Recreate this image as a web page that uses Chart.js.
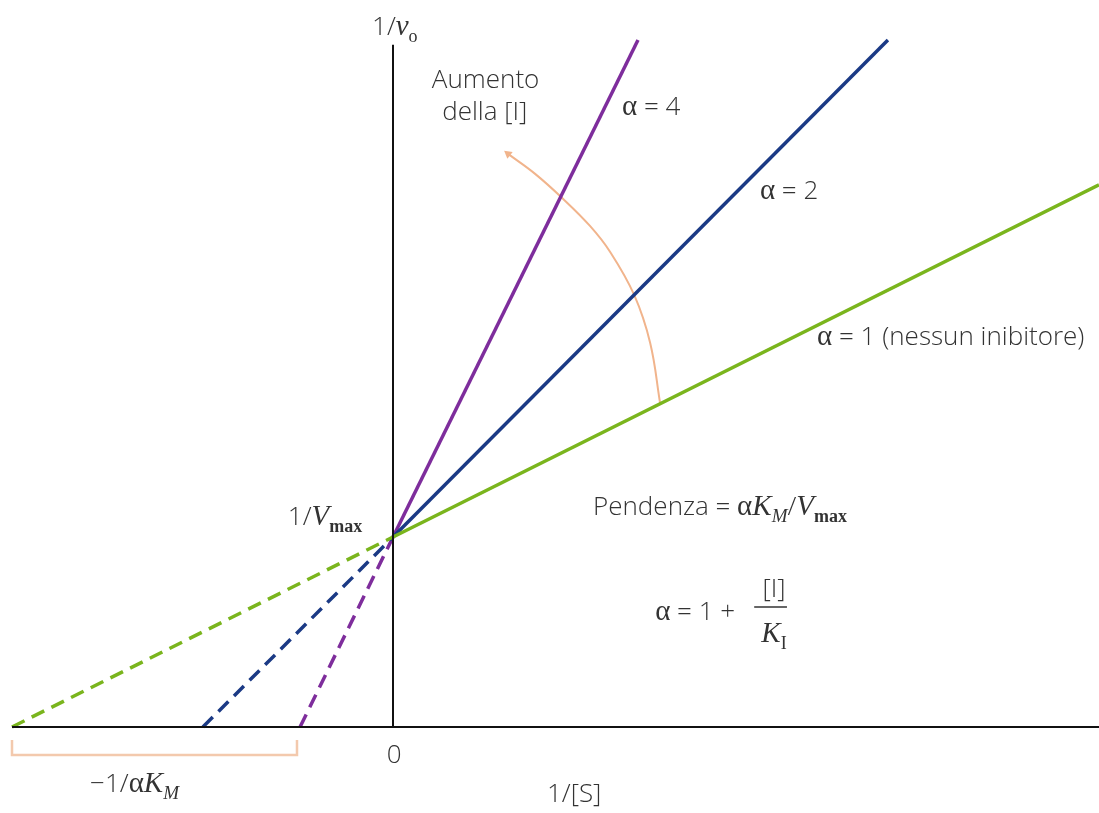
<!DOCTYPE html>
<html>
<head>
<meta charset="utf-8">
<script src="https://cdn.jsdelivr.net/npm/chart.js@4.4.1/dist/chart.umd.min.js"></script>
<style>
  html, body { margin: 0; padding: 0; background: #fff; overflow: hidden; }
  #wrap { width: 1099px; height: 813px; position: relative; }
</style>
</head>
<body>
<div id="wrap"><canvas id="lb"></canvas></div>
<script>
// Lineweaver-Burk, inibizione competitiva (1/Vmax = 1, -1/KM = -1)
const alphaLabels = ['α = 1', 'α = 2', 'α = 4'];
const solidEndX = [1.853, 1.299, 0.643];
const solidEndY = [2.853, 3.616, 3.616];
const interceptX = [-1.0, -0.499, -0.244];
const yIntercept = 1.0;

const xAxisX = [-1.0, 1.853];
const yAxisTop = 3.59;

// freccia "Aumento della [I]"
const arcX = [0.701, 0.675, 0.633, 0.570, 0.517, 0.444, 0.373, 0.302];
const arcY = [1.705, 2.021, 2.274, 2.500, 2.637, 2.784, 2.911, 3.016];

// parentesi sotto l'asse x
const bracketX = [-1.0, -1.0, -0.252, -0.252];
const bracketY = [-0.068, -0.147, -0.147, -0.068];

const colors = ['#7ab51d', '#1b3a85', '#7e2d9c'];
const orange = '#f1b48c';
const ink = '#333333';

const pts = (xs, ys) => xs.map((x, i) => ({ x: x, y: ys[i] }));

const datasets = [
    { data: pts(xAxisX, [0, 0]), borderColor: '#111', borderWidth: 2 },
    { data: pts([0, 0], [0, yAxisTop]), borderColor: '#111', borderWidth: 2 },
    { data: pts(bracketX, bracketY), borderColor: '#f3c9ad', borderWidth: 2.5 },
];
colors.forEach((c, i) => {
    datasets.push({ data: pts([0, solidEndX[i]], [yIntercept, solidEndY[i]]), borderColor: c, borderWidth: 3.5 });
    datasets.push({ data: pts([interceptX[i], 0], [0, yIntercept]), borderColor: c, borderWidth: 3.5, borderDash: [14, 8] });
});
datasets.push({
    data: pts(arcX, arcY),
    borderColor: orange,
    borderWidth: 2,
    tension: 0.4,
    pointRadius: arcX.map((_, i) => (i === arcX.length - 1 ? 5 : 0)),
    pointStyle: 'triangle',
    pointRotation: -52,
    pointBackgroundColor: orange,
    pointBorderColor: orange,
    pointBorderWidth: 0,
});

const SANS = '"Open Sans", "Noto Sans", sans-serif';
const SERIF = '"Liberation Serif", "DejaVu Serif", serif';
const st = {
    s: { font: '300 26px ' + SANS, dy: 0 },
    g: { font: '29px ' + SERIF, dy: 0 },
    i: { font: 'italic 29px ' + SERIF, dy: 0 },
    sub: { font: 'italic 19px ' + SERIF, dy: 7 },
    subr: { font: '18px ' + SERIF, dy: 7 },
    subb: { font: 'bold 18px ' + SERIF, dy: 7 },
};

// [x, y, allineamento, segmenti]
const labels = [
    [-0.055, 3.642, 'left', [['1/', 's'], ['v', 'i'], ['o', 'subr']]],
    [0.102, 3.363, 'left', [['Aumento', 's']]],
    [0.129, 3.195, 'left', [['della [I]', 's']]],
    [0.601, 3.221, 'left', [['α', 'g'], [' = 4', 's']]],
    [0.963, 2.779, 'left', [['α', 'g'], [' = 2', 's']]],
    [1.113, 2.011, 'left', [['α', 'g'], [' = 1 (nessun inibitore)', 's']]],
    [-0.276, 1.063, 'left', [['1/', 's'], ['V', 'i'], ['max', 'subb']]],
    [0.525, 1.116, 'left', [['Pendenza = ', 's'], ['α', 'g'], ['K', 'i'], ['M', 'sub'], ['/', 's'], ['V', 'i'], ['max', 'subb']]],
    [0.688, 0.563, 'left', [['α', 'g'], [' = 1 + ', 's']]],
    [1.0, 0.684, 'center', [['[I]', 's']]],
    [1.0, 0.447, 'center', [['K', 'i'], ['I', 'subr']]],
    [0.003, -0.189, 'center', [['0', 's']]],
    [-0.795, -0.342, 'left', [['−1/', 's'], ['α', 'g'], ['K', 'i'], ['M', 'sub']]],
    [0.404, -0.395, 'left', [['1/[S]', 's']]],
];
const fractionBar = { x0: 0.948, x1: 1.034, y: 0.632 };

const textPlugin = {
    id: 'textPlugin',
    afterDatasetsDraw(chart) {
        const { ctx, scales: { x, y } } = chart;
        ctx.save();
        ctx.fillStyle = ink;
        ctx.textBaseline = 'alphabetic';
        ctx.textAlign = 'left';
        labels.forEach(([lx, ly, align, segs]) => {
            let w = 0;
            segs.forEach(([t, k]) => { ctx.font = st[k].font; w += ctx.measureText(t).width; });
            let px = x.getPixelForValue(lx);
            const py = y.getPixelForValue(ly);
            if (align === 'center') px -= w / 2;
            segs.forEach(([t, k]) => {
                ctx.font = st[k].font;
                ctx.fillText(t, px, py + st[k].dy);
                px += ctx.measureText(t).width;
            });
        });
        ctx.strokeStyle = ink;
        ctx.lineWidth = 1.5;
        ctx.beginPath();
        ctx.moveTo(x.getPixelForValue(fractionBar.x0), y.getPixelForValue(fractionBar.y));
        ctx.lineTo(x.getPixelForValue(fractionBar.x1), y.getPixelForValue(fractionBar.y));
        ctx.stroke();
        ctx.restore();
    },
};

new Chart(document.getElementById('lb'), {
    type: 'scatter',
    data: { datasets: datasets.map(d => Object.assign({ showLine: true, pointRadius: 0, pointHoverRadius: 0, fill: false }, d)) },
    options: {
        responsive: true,
        maintainAspectRatio: false,
        animation: false,
        layout: { padding: 0, autoPadding: false },
        plugins: { legend: { display: false }, tooltip: { enabled: false } },
        scales: {
            x: { type: 'linear', display: false, min: -1.0315, max: 1.853 },
            y: { type: 'linear', display: false, min: -0.4526, max: 3.826 },
        },
        elements: { line: { borderCapStyle: 'butt' } },
    },
    plugins: [textPlugin],
});
</script>
</body>
</html>
